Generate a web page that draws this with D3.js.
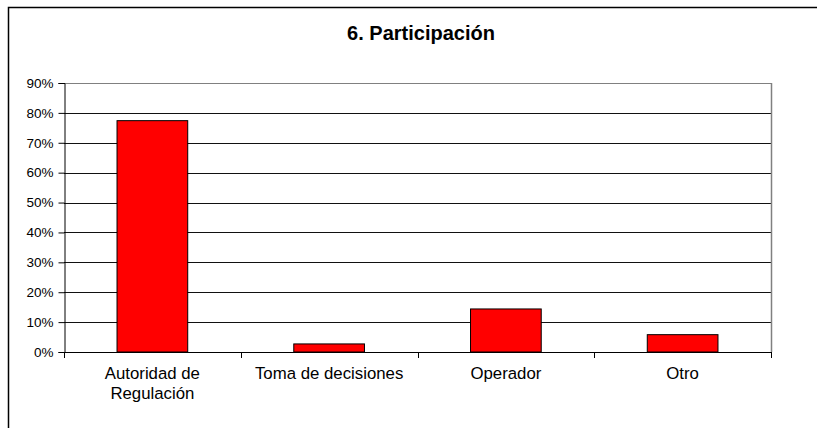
<!DOCTYPE html>
<html>
<head>
<meta charset="utf-8">
<script src="https://cdn.jsdelivr.net/npm/d3@7"></script>
<style>
  body { margin: 0; background: #fff; }
  text { font-family: "Liberation Sans", Arial, sans-serif; fill: #000; }
</style>
</head>
<body>
<div class="chart"></div>
<script>
// data
var categories = [["Autoridad de", "Regulación"], ["Toma de decisiones"], ["Operador"], ["Otro"]];
var values = [0.774, 0.027, 0.144, 0.058];
var yTicks = [0, 0.1, 0.2, 0.3, 0.4, 0.5, 0.6, 0.7, 0.8, 0.9];
var title = "6. Participación";

// configuration
var width = 817;
var height = 428;
var plot = {left: 64, right: 771, top: 83, bottom: 352};

var svg = d3.select(".chart").append("svg")
    .attr("width", width)
    .attr("height", height);

// outer frame (runs off the right and bottom edges)
svg.append("rect")
    .attr("x", 8.5)
    .attr("y", 7.5)
    .attr("width", 860)
    .attr("height", 460)
    .attr("fill", "none")
    .attr("stroke", "#000")
    .attr("stroke-width", 1.5);

svg.append("text")
    .attr("x", 421)
    .attr("y", 40)
    .attr("text-anchor", "middle")
    .style("font-size", "20px")
    .style("font-weight", "bold")
    .text(title);

var x = d3.scaleBand()
    .domain(d3.range(categories.length))
    .range([plot.left, plot.right])
    .paddingInner(0.6)
    .paddingOuter(0.3);

var y = d3.scaleLinear()
    .domain([0, 0.9])
    .range([plot.bottom, plot.top]);

// gridlines
svg.append("g").selectAll("line")
    .data(yTicks.slice(1))
    .enter().append("line")
    .attr("x1", plot.left)
    .attr("x2", plot.right)
    .attr("y1", function(d) { return Math.round(y(d)) + 0.5; })
    .attr("y2", function(d) { return Math.round(y(d)) + 0.5; })
    .attr("stroke", function(d) { return d === 0.9 ? "#808080" : "#111"; })
    .attr("stroke-width", 1);

// right border of plot
svg.append("line")
    .attr("x1", plot.right + 0.5)
    .attr("x2", plot.right + 0.5)
    .attr("y1", plot.top)
    .attr("y2", plot.bottom)
    .attr("stroke", "#808080")
    .attr("stroke-width", 1.5);

// bars
svg.append("g").selectAll("rect")
    .data(values)
    .enter().append("rect")
    .attr("x", function(d, i) { return x(i); })
    .attr("y", function(d) { return y(d); })
    .attr("width", x.bandwidth())
    .attr("height", function(d) { return y(0) - y(d); })
    .attr("fill", "#ff0000")
    .attr("stroke", "#000")
    .attr("stroke-width", 1);

// y axis
var yAxis = svg.append("g")
    .attr("transform", "translate(" + (plot.left + 0.5) + ",0)")
    .call(d3.axisLeft(y).tickValues(yTicks).tickFormat(d3.format(".0%")).tickSize(6).tickPadding(5));
yAxis.select(".domain").attr("stroke", "#000");
yAxis.selectAll(".tick line").attr("stroke", "#000");
yAxis.selectAll("text")
    .style("font-size", "13.5px")
    .style("font-family", "'Liberation Sans', Arial, sans-serif");

// x axis: ticks on category boundaries
var bounds = d3.range(categories.length + 1).map(function(i) {
  return plot.left + i * x.step();
});
var xAxis = svg.append("g").attr("class", "xaxis");
xAxis.append("line")
    .attr("x1", plot.left)
    .attr("x2", plot.right + 1)
    .attr("y1", plot.bottom + 0.5)
    .attr("y2", plot.bottom + 0.5)
    .attr("stroke", "#000");
xAxis.selectAll(".tick")
    .data(bounds)
    .enter().append("line")
    .attr("x1", function(d) { return Math.round(d) + 0.5; })
    .attr("x2", function(d) { return Math.round(d) + 0.5; })
    .attr("y1", plot.bottom)
    .attr("y2", plot.bottom + 6)
    .attr("stroke", "#000");

// category labels
var labels = xAxis.selectAll(".label")
    .data(categories)
    .enter().append("text")
    .attr("text-anchor", "middle")
    .attr("x", function(d, i) { return x(i) + x.bandwidth() / 2; })
    .attr("y", 379)
    .style("font-size", "16.8px");
labels.selectAll("tspan")
    .data(function(d) { return d; })
    .enter().append("tspan")
    .attr("x", function() { return d3.select(this.parentNode).attr("x"); })
    .attr("dy", function(d, i) { return i === 0 ? 0 : 19.5; })
    .text(function(d) { return d; });
</script>
</body>
</html>
